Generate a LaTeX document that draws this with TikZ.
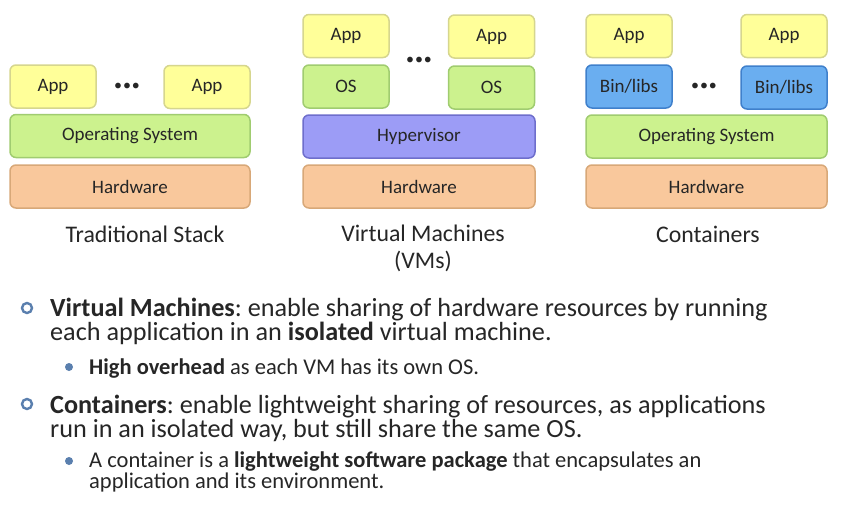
\documentclass[tikz,border=0pt]{standalone}
\usepackage{fontspec}
\setmainfont{Carlito}
\frenchspacing
\definecolor{txt}{HTML}{262626}
\definecolor{appfill}{HTML}{FFFF99}
\definecolor{appline}{HTML}{D6D68E}
\definecolor{osfill}{HTML}{CCF28E}
\definecolor{osline}{HTML}{A0CC70}
\definecolor{hypfill}{HTML}{9C9CF6}
\definecolor{hypline}{HTML}{6E6ECC}
\definecolor{hwfill}{HTML}{F9C89C}
\definecolor{hwline}{HTML}{D8A878}
\definecolor{libfill}{HTML}{6AAEF0}
\definecolor{libline}{HTML}{3F80CC}
\definecolor{bul}{HTML}{5A7FAE}

\begin{document}
\begin{tikzpicture}[x=1pt,y=-1pt,
  layer/.style={rectangle,rounded corners=6pt,line width=1.5pt,minimum height=43pt,inner sep=0pt,text=txt,font=\fontsize{19}{21}\selectfont},
  app/.style={layer,fill=appfill,draw=appline,minimum width=86pt},
  os/.style={layer,fill=osfill,draw=osline},
  libs/.style={layer,fill=libfill,draw=libline,minimum width=86pt},
  hyper/.style={layer,fill=hypfill,draw=hypline,minimum width=232pt},
  hw/.style={layer,fill=hwfill,draw=hwline},
  dots/.style={text=txt,font=\fontsize{16}{18}\selectfont},
  title/.style={text=txt,font=\fontsize{23.8}{26.5}\selectfont,align=center,anchor=base},
  item/.style={text=txt,anchor=base west,align=left,inner sep=0pt,font=\fontsize{26.2}{24.5}\selectfont},
  subitem/.style={text=txt,anchor=base west,align=left,inner sep=0pt,font=\fontsize{22.5}{20.5}\selectfont}]
  \useasboundingbox[fill=white] (0,0) rectangle (841,504);

  % traditional stack
  \node[app] (tapp1) at (53,86.5) {App};
  \node[app] (tapp2) at (207,87) {App};
  \node[dots] (tdots) at (127,87) {\textbullet\kern1pt\textbullet\kern1pt\textbullet};
  \node[os,minimum width=240pt] (tos) at (130,136) {Operating System};
  \node[hw,minimum width=240pt] (thw) at (130,186.5) {Hardware};
  \node[title] (tname) at (145,242) {Traditional Stack};

  % virtual machines
  \node[app] (vapp1) at (346,36) {App};
  \node[app] (vapp2) at (491.5,36.5) {App};
  \node[os,minimum width=86pt] (vos1) at (346,86.5) {OS};
  \node[os,minimum width=86pt] (vos2) at (491.5,87.5) {OS};
  \node[dots] (vdots) at (419,61) {\textbullet\kern1pt\textbullet\kern1pt\textbullet};
  \node[hyper] (vhyp) at (419,136.5) {Hypervisor};
  \node[hw,minimum width=232pt] (vhw) at (419,186.5) {Hardware};
  \node[title] (vname) at (423,268) {Virtual Machines\\(VMs)};

  % containers
  \node[app] (capp1) at (629,36) {App};
  \node[app] (capp2) at (784,36) {App};
  \node[libs] (clib1) at (629,86.5) {Bin/libs};
  \node[libs] (clib2) at (784,87.5) {Bin/libs};
  \node[dots] (cdots) at (704,87) {\textbullet\kern1pt\textbullet\kern1pt\textbullet};
  \node[os,minimum width=241pt] (cos) at (706.5,136.5) {Operating System};
  \node[hw,minimum width=241pt] (chw) at (706.5,186.5) {Hardware};
  \node[title] (cname) at (708,242) {Containers};

  % bullets
  \draw[bul,line width=2.4pt] (27,308) circle (5pt);
  \node[item] (vmtext) at (50,340.5) {\textbf{Virtual Machines}: enable sharing of hardware resources by running\\each application in an \textbf{isolated} virtual machine.};
  \fill[bul] (69,367) circle (4pt);
  \node[subitem] (vmsub) at (89,374) {\textbf{High overhead} as each VM has its own OS.};
  \draw[bul,line width=2.4pt] (27,404) circle (5pt);
  \node[item] (cttext) at (50,437.5) {\textbf{Containers}: enable lightweight sharing of resources, as applications\\run in an isolated way, but still share the same OS.};
  \fill[bul] (69,461) circle (4pt);
  \node[subitem] (ctsub) at (89,488) {A container is a \textbf{lightweight software package} that encapsulates an\\application and its environment.};
\end{tikzpicture}
\end{document}
